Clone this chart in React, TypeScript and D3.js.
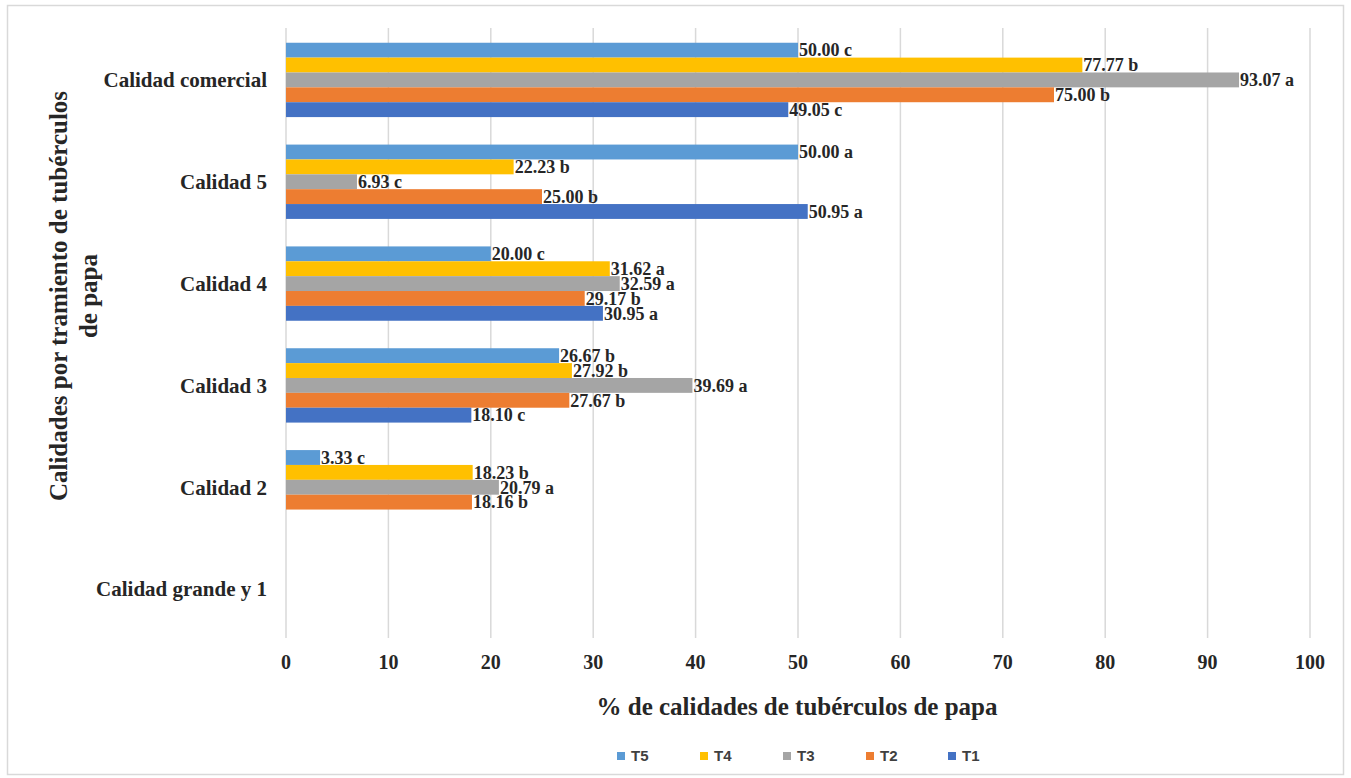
import React from "react";
import * as d3 from "d3";

const categories = [
  "Calidad comercial",
  "Calidad 5",
  "Calidad 4",
  "Calidad 3",
  "Calidad 2",
  "Calidad grande y 1",
];
const seriesNames = ["T5", "T4", "T3", "T2", "T1"];
const seriesColors = ["#5B9BD5", "#FFC000", "#A5A5A5", "#ED7D31", "#4472C4"];

// values per series, in category order (null = no bar)
const T5 = [50.0, 50.0, 20.0, 26.67, 3.33, null];
const T4 = [77.77, 22.23, 31.62, 27.92, 18.23, null];
const T3 = [93.07, 6.93, 32.59, 39.69, 20.79, null];
const T2 = [75.0, 25.0, 29.17, 27.67, 18.16, null];
const T1 = [49.05, 50.95, 30.95, 18.1, null, null];

const T5letters = ["c", "a", "c", "b", "c", null];
const T4letters = ["b", "b", "a", "b", "b", null];
const T3letters = ["a", "c", "a", "a", "a", null];
const T2letters = ["b", "b", "b", "b", "b", null];
const T1letters = ["c", "a", "a", "c", null, null];

const xTicks = [0, 10, 20, 30, 40, 50, 60, 70, 80, 90, 100];

const seriesValues = [T5, T4, T3, T2, T1];
const seriesLetters = [T5letters, T4letters, T3letters, T2letters, T1letters];

const W = 1351;
const H = 778;
const serif = "'Liberation Serif', 'Times New Roman', serif";

export default function App() {
  const x = d3.scaleLinear().domain([0, 100]).range([286, 1310]);
  const y = d3
    .scaleBand<string>()
    .domain(categories)
    .range([29, 640])
    .paddingInner(0.27)
    .paddingOuter(0.135);
  const inner = d3
    .scaleBand<string>()
    .domain(seriesNames)
    .range([0, y.bandwidth()])
    .padding(0);

  const bars: any[] = [];
  const labels: any[] = [];
  seriesNames.forEach((s, si) => {
    categories.forEach((c, ci) => {
      const v = seriesValues[si][ci];
      if (v === null || v === undefined) return;
      const by = (y(c) as number) + (inner(s) as number);
      const bh = inner.bandwidth();
      bars.push(
        <rect
          key={`b-${s}-${c}`}
          x={x(0)}
          y={by}
          width={x(v) - x(0)}
          height={bh}
          fill={seriesColors[si]}
        />
      );
      labels.push(
        <text
          key={`l-${s}-${c}`}
          x={x(v) + 1}
          y={by + bh / 2}
          dy="0.35em"
          fontFamily={serif}
          fontWeight="bold"
          fontSize={18}
          fill="#262626"
        >
          {`${v.toFixed(2)} ${seriesLetters[si][ci]}`}
        </text>
      );
    });
  });

  const legendX = [617, 700, 783, 866, 948];

  return (
    <svg
      width={W}
      height={H}
      style={{ position: "absolute", left: 0, top: 0, background: "#fff" }}
    >
      <rect x={0} y={0} width={W} height={H} fill="#fff" />
      <rect
        x={7.5}
        y={5.5}
        width={1336}
        height={769}
        fill="#fff"
        stroke="#d9d9d9"
        strokeWidth={1.5}
      />
      {/* gridlines */}
      {xTicks.map((t) => (
        <line
          key={`g-${t}`}
          x1={x(t)}
          x2={x(t)}
          y1={28}
          y2={638}
          stroke="#d9d9d9"
          strokeWidth={1.5}
        />
      ))}
      {bars}
      {labels}
      {/* category labels */}
      {categories.map((c) => (
        <text
          key={`c-${c}`}
          x={267}
          y={(y(c) as number) + y.bandwidth() / 2}
          dy="0.35em"
          textAnchor="end"
          fontFamily={serif}
          fontWeight="bold"
          fontSize={21}
          fill="#262626"
        >
          {c}
        </text>
      ))}
      {/* x tick labels */}
      {xTicks.map((t) => (
        <text
          key={`t-${t}`}
          x={x(t)}
          y={662}
          dy="0.35em"
          textAnchor="middle"
          fontFamily={serif}
          fontWeight="bold"
          fontSize={20}
          fill="#262626"
        >
          {t}
        </text>
      ))}
      {/* x axis title */}
      <text
        x={797}
        y={706}
        dy="0.35em"
        textAnchor="middle"
        fontFamily={serif}
        fontWeight="bold"
        fontSize={25}
        fill="#262626"
      >
        % de calidades de tubérculos de papa
      </text>
      {/* y axis title */}
      <g transform="translate(58,296) rotate(-90)">
        <text
          x={0}
          y={0}
          dy="0.35em"
          textAnchor="middle"
          fontFamily={serif}
          fontWeight="bold"
          fontSize={25}
          fill="#262626"
        >
          Calidades por tramiento de tubérculos
        </text>
        <text
          x={0}
          y={30}
          dy="0.35em"
          textAnchor="middle"
          fontFamily={serif}
          fontWeight="bold"
          fontSize={25}
          fill="#262626"
        >
          de papa
        </text>
      </g>
      {/* legend */}
      {seriesNames.map((s, i) => (
        <g key={`lg-${s}`} transform={`translate(${legendX[i]},756)`}>
          <rect x={0} y={-4} width={8} height={8} fill={seriesColors[i]} />
          <text
            x={14}
            y={0}
            dy="0.36em"
            fontFamily="'Liberation Sans Narrow', 'Liberation Sans', Arial, sans-serif"
            fontWeight="bold"
            fontSize={15}
            fill="#404040"
          >
            {s}
          </text>
        </g>
      ))}
    </svg>
  );
}
